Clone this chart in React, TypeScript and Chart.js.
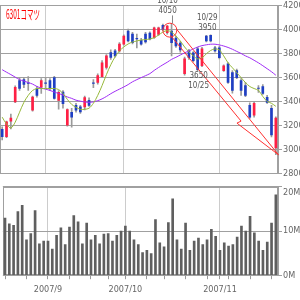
import React, { useEffect, useRef } from 'react';
import { Chart, registerables } from 'chart.js';
Chart.register(...registerables);

const title = '6301コマツ';

const dates = [
  '2007-08-20','2007-08-21','2007-08-22','2007-08-23','2007-08-24','2007-08-27','2007-08-28','2007-08-29','2007-08-30','2007-08-31',
  '2007-09-03','2007-09-04','2007-09-05','2007-09-06','2007-09-07','2007-09-10','2007-09-11','2007-09-12','2007-09-13','2007-09-14',
  '2007-09-18','2007-09-19','2007-09-20','2007-09-21','2007-09-25','2007-09-26','2007-09-27','2007-09-28',
  '2007-10-01','2007-10-02','2007-10-03','2007-10-04','2007-10-05','2007-10-09','2007-10-10','2007-10-11','2007-10-12',
  '2007-10-15','2007-10-16','2007-10-17','2007-10-18','2007-10-19','2007-10-22','2007-10-23','2007-10-24','2007-10-25','2007-10-26',
  '2007-10-29','2007-10-30','2007-10-31',
  '2007-11-01','2007-11-02','2007-11-05','2007-11-06','2007-11-07','2007-11-08','2007-11-09','2007-11-12','2007-11-13','2007-11-14',
  '2007-11-15','2007-11-16','2007-11-19','2007-11-20',
];

const opens = [3168,3108,3237,3396,3575,3583,3555,3328,3506,3519,3555,3575,3599,3410,3478,3204,3311,3368,3355,3355,3409,3555,3558,3607,3684,3807,3821,3821,3877,3986,3961,3925,3909,3961,3970,3931,3959,4035,3972,3986,3928,3887,3632,3821,3805,3838,3698,3945,3950,3846,3846,3657,3714,3640,3657,3574,3533,3368,3286,3512,3525,3434,3344,3014];
const highs = [3190,3237,3295,3530,3600,3600,3607,3445,3526,3591,3600,3590,3610,3492,3492,3340,3344,3385,3368,3445,3430,3583,3630,3740,3790,3830,3835,3890,3955,4002,3975,3961,3925,3975,3980,4020,4020,4045,4035,4050,3945,3900,3770,3835,3815,3850,3850,3950,3955,3860,3860,3705,3725,3657,3670,3590,3560,3390,3400,3533,3540,3451,3368,3273];
const lows = [3080,3100,3171,3390,3492,3516,3492,3320,3437,3467,3509,3492,3420,3336,3344,3195,3187,3311,3300,3330,3360,3516,3545,3600,3670,3750,3770,3810,3870,3895,3880,3846,3870,3885,3912,3925,3950,3990,3960,3780,3850,3810,3620,3750,3730,3650,3690,3895,3895,3810,3755,3650,3550,3470,3590,3451,3440,3260,3270,3475,3460,3385,3105,2957];
const closes = [3108,3231,3262,3519,3509,3542,3550,3437,3451,3575,3550,3509,3426,3476,3383,3333,3270,3327,3314,3432,3368,3550,3615,3722,3780,3766,3780,3879,3945,3904,3890,3920,3877,3895,3920,4013,4013,4000,4027,3890,3862,3830,3756,3764,3739,3665,3838,3905,3904,3821,3764,3698,3558,3492,3599,3492,3451,3270,3385,3508,3467,3393,3121,3262];

// trading volume, millions of shares
const volumes = [12.9,11.6,11.3,14.4,15.8,8.0,9.4,14.6,7.1,7.7,7.7,5.9,9.0,10.7,6.9,10.9,13.5,12.1,7.1,11.8,8.0,9.0,7.1,9.3,9.4,7.7,9.0,10.0,11.1,10.0,8.0,6.9,5.1,5.6,4.9,12.6,7.3,6.4,11.9,17.3,8.0,5.9,11.8,5.6,7.7,8.4,6.9,8.0,10.4,8.8,5.6,7.3,6.6,6.9,8.6,11.1,10.0,13.3,9.6,7.7,5.6,7.5,11.8,18.2];

// short and long moving averages as drawn
const maShort = [3270,3212,3179,3228,3311,3393,3451,3492,3508,3508,3508,3508,3508,3500,3467,3418,3376,3352,3335,3335,3344,3385,3451,3533,3624,3706,3772,3821,3854,3879,3895,3904,3912,3916,3920,3932,3953,3978,3990,3978,3945,3904,3854,3813,3780,3755,3764,3797,3825,3838,3830,3780,3722,3681,3640,3599,3558,3525,3508,3492,3442,3401,3385,3360];
const maLong = [3665,3644,3624,3603,3582,3570,3558,3545,3525,3512,3503,3492,3479,3467,3453,3438,3426,3411,3403,3396,3393,3397,3407,3422,3442,3465,3485,3503,3521,3541,3564,3582,3599,3615,3632,3659,3683,3706,3727,3751,3768,3787,3805,3821,3838,3854,3865,3872,3877,3877,3871,3862,3850,3835,3817,3800,3780,3764,3743,3722,3698,3673,3648,3619];

const priceMin = 2800;
const priceMax = 4200;
const priceStep = 200;
const volMax = 20;
const volStep = 10;

// price annotations
const peakNotes = [
  { index: 39, date: '10/10', price: 4050, pos: 'above', leader: true, dx: -4 },
  { index: 47, date: '10/29', price: 3950, pos: 'above', leader: false, dx: 1 },
  { index: 45, date: '10/25', price: 3650, pos: 'below', leader: false, dx: 1 },
];

// trend marks in data coordinates [index, price]
const circleMark = { index: 38.6, price: 3994 };
const arrowUpper = [[40.2, 4000], [63.6, 2957]];
const arrowLower = [[38.7, 3953], [55.0, 3237], [54.05, 3220], [63.6, 2957]];

const FONT = '"Liberation Sans Narrow", "DejaVu Sans Condensed", sans-serif';
const AXIS_COLOR = '#666';
const GRID = '#a0a0a0';
const VGRID = '#cccccc';

const monthStart = dates.map((d, i) => i > 0 && d.slice(5, 7) !== dates[i - 1].slice(5, 7));
const weekStart = dates.map((d, i) => {
  if (i === 0) return true;
  const a = new Date(dates[i - 1] + 'T00:00:00Z').getUTCDay();
  const b = new Date(d + 'T00:00:00Z').getUTCDay();
  return b <= a;
});
const monthLabel = (i: number) => (monthStart[i] ? `${dates[i].slice(0, 4)}/${parseInt(dates[i].slice(5, 7), 10)}` : '');

const framePlugin = {
  id: 'frame',
  beforeDatasetsDraw(chart: any) {
    const { ctx, chartArea: a } = chart;
    ctx.save();
    ctx.strokeStyle = GRID;
    ctx.lineWidth = 1;
    const l = Math.round(a.left) + 0.5;
    const t = Math.round(a.top) + 0.5;
    const r = Math.round(a.right) - 0.5;
    const b = Math.round(a.bottom) - 0.5;
    ctx.strokeRect(l, t, r - l, b - t);
    ctx.restore();
  },
};

const annotPlugin = {
  id: 'annot',
  afterDatasetsDraw(chart: any) {
    const { ctx } = chart;
    const x = chart.scales.x;
    const y = chart.scales.y;
    ctx.save();
    ctx.strokeStyle = '#ff3030';
    ctx.lineWidth = 1;
    const drawPath = (pts: number[][]) => {
      ctx.beginPath();
      pts.forEach((p, k) => {
        const px = x.getPixelForValue(p[0]);
        const py = y.getPixelForValue(p[1]);
        if (k === 0) ctx.moveTo(px, py);
        else ctx.lineTo(px, py);
      });
      ctx.stroke();
    };
    drawPath(arrowUpper);
    drawPath(arrowLower);
    ctx.beginPath();
    ctx.arc(x.getPixelForValue(circleMark.index), y.getPixelForValue(circleMark.price), 7, 0, Math.PI * 2);
    ctx.stroke();

    ctx.fillStyle = '#555';
    ctx.font = `8px ${FONT}`;
    ctx.textAlign = 'center';
    ctx.textBaseline = 'middle';
    peakNotes.forEach((n) => {
      const px = x.getPixelForValue(n.index);
      const py = y.getPixelForValue(n.price);
      const cx = px + n.dx;
      if (n.pos === 'above') {
        const off = n.leader ? 12 : 8;
        ctx.fillText(String(n.price), cx, py - off);
        ctx.fillText(n.date, cx, py - off - 10);
        if (n.leader) {
          ctx.strokeStyle = '#888';
          ctx.beginPath();
          ctx.moveTo(Math.round(px) + 0.5, py - off + 4);
          ctx.lineTo(Math.round(px) + 0.5, py);
          ctx.stroke();
        }
      } else {
        ctx.fillText(String(n.price), cx, py + 4.5);
        ctx.fillText(n.date, cx, py + 14.5);
      }
    });

    ctx.fillStyle = '#ff0000';
    ctx.textAlign = 'left';
    ctx.font = '13px "Noto Sans CJK JP", sans-serif';
    ctx.translate(6, 15);
    ctx.scale(0.5, 1);
    ctx.fillText(title, 0, 0);
    ctx.restore();
  },
};

export default function App() {
  const priceRef = useRef<HTMLCanvasElement>(null);
  const volRef = useRef<HTMLCanvasElement>(null);

  useEffect(() => {
    const labels = dates;
    const xGridColor = (c: any) => (monthStart[c.index] ? VGRID : 'rgba(0,0,0,0)');
    const priceChart = new Chart(priceRef.current as HTMLCanvasElement, {
      type: 'bar',
      data: {
        labels,
        datasets: [
          {
            type: 'line',
            data: maShort,
            borderColor: '#96b83a',
            borderWidth: 1,
            pointRadius: 0,
            tension: 0.3,
            order: 1,
          } as any,
          {
            type: 'line',
            data: maLong,
            borderColor: '#9f2cf5',
            borderWidth: 1,
            pointRadius: 0,
            tension: 0.3,
            order: 1,
          } as any,
          {
            data: opens.map((o, i) => [o, closes[i]]),
            backgroundColor: opens.map((o, i) => (closes[i] >= o ? '#ff1f44' : '#1f3fc4')),
            barThickness: 2,
            grouped: false,
            order: 2,
          } as any,
          {
            data: lows.map((l, i) => [l, highs[i]]),
            backgroundColor: '#9a9a9a',
            barThickness: 1,
            grouped: false,
            order: 3,
          } as any,
        ],
      },
      options: {
        animation: false,
        responsive: false,
        events: [],
        layout: { padding: 0 },
        plugins: { legend: { display: false }, tooltip: { enabled: false } },
        scales: {
          x: {
            offset: true,
            grid: { offset: false, color: xGridColor, drawTicks: false },
            ticks: { display: false },
            border: { display: false },
          },
          y: {
            position: 'right',
            min: priceMin,
            max: priceMax,
            ticks: {
              stepSize: priceStep,
              color: AXIS_COLOR,
              font: { family: FONT, size: 9 },
              padding: 1,
              callback: (v: any) => String(v),
            },
            grid: { color: GRID, tickLength: 4 },
            border: { color: GRID },
            afterFit: (s: any) => { s.width = 22; },
          },
        },
      } as any,
      plugins: [framePlugin, annotPlugin],
    });

    const volChart = new Chart(volRef.current as HTMLCanvasElement, {
      type: 'bar',
      data: {
        labels,
        datasets: [
          {
            data: volumes,
            backgroundColor: '#5f5f5f',
            barThickness: 2,
          },
        ],
      },
      options: {
        animation: false,
        responsive: false,
        events: [],
        layout: { padding: { top: 1, bottom: 0 } },
        plugins: { legend: { display: false }, tooltip: { enabled: false } },
        scales: {
          x: {
            offset: true,
            grid: {
              offset: false,
              color: xGridColor,
              tickColor: (c: any) => (weekStart[c.index] || monthStart[c.index] ? '#999' : 'rgba(0,0,0,0)'),
              tickLength: 4,
            },
            border: { display: false },
            ticks: {
              autoSkip: false,
              maxRotation: 0,
              color: AXIS_COLOR,
              font: { family: FONT, size: 9 },
              padding: 5,
              callback: (_v: any, i: number) => monthLabel(i),
            },
          },
          y: {
            position: 'right',
            min: 0,
            max: volMax,
            ticks: {
              stepSize: volStep,
              color: AXIS_COLOR,
              font: { family: FONT, size: 9 },
              padding: 1,
              callback: (v: any) => (v === volMax ? ['', `${v}M`] : `${v}M`),
            },
            grid: { color: GRID, tickLength: 4 },
            border: { color: GRID },
            afterFit: (s: any) => { s.width = 22; },
          },
        },
      } as any,
      plugins: [framePlugin],
    });

    return () => {
      priceChart.destroy();
      volChart.destroy();
    };
  }, []);

  return (
    <div style={{ position: 'fixed', left: 0, top: 0, width: 300, height: 300, background: '#fff', overflow: 'hidden' }}>
      <canvas ref={volRef} width={300} height={125} style={{ position: 'absolute', left: 0, top: 175, width: 300, height: 125 }} />
      <canvas ref={priceRef} width={300} height={181} style={{ position: 'absolute', left: 0, top: -1, width: 300, height: 181 }} />
    </div>
  );
}
